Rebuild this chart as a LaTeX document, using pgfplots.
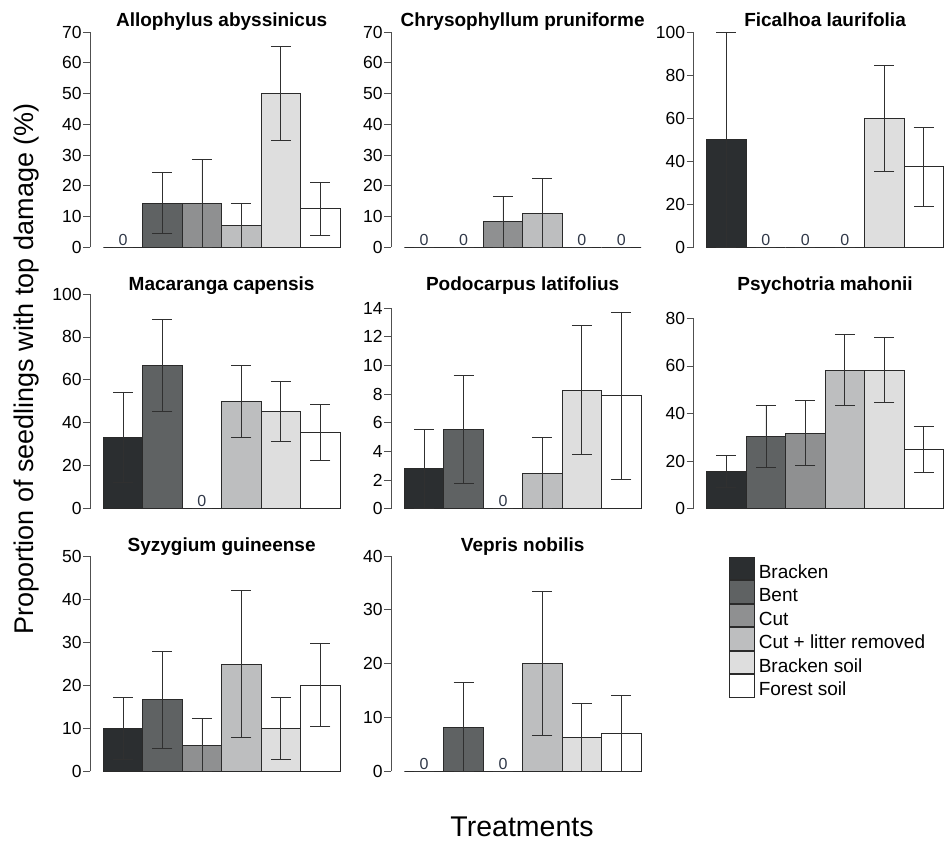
\documentclass[border=0pt]{standalone}
\usepackage{fontspec}
\setmainfont{Liberation Sans}
\usepackage{pgfplots}
\pgfplotsset{compat=1.18}
\usepackage{pgfplotstable}

\definecolor{c0}{HTML}{2B2E30}
\definecolor{c1}{HTML}{5F6263}
\definecolor{c2}{HTML}{8F9091}
\definecolor{c3}{HTML}{BDBEBF}
\definecolor{c4}{HTML}{DEDEDE}
\definecolor{c5}{HTML}{FFFFFF}
\definecolor{bord}{HTML}{2A2A2A}
\definecolor{axcol}{HTML}{505050}
\definecolor{ebcol}{HTML}{303030}
\definecolor{zcol}{HTML}{303848}

\newcommand\ticksize{\fontsize{17.5}{19}\selectfont}
\newcommand\titlesize{\fontsize{19}{21}\selectfont\bfseries}
\newcommand\legsize{\fontsize{19}{21}\selectfont}
\newcommand\labsize{\fontsize{28.5}{31}\selectfont}
\newcommand\ylabsize{\fontsize{27}{30}\selectfont}
\newcommand\zerosize{\fontsize{16}{18}\selectfont}

% x = treatment index, y = percent, ep/em = upper/lower error
\pgfplotstableread{
x y ep em
0 0 0 0
1 14.3 9.9 9.9
2 14.3 14.3 14.3
3 7.1 7.2 7.1
4 50 15.2 15.2
5 12.5 8.7 8.7
}\tAllo
\pgfplotstableread{
x y ep em
0 0 0 0
1 0 0 0
2 8.3 8.4 8.3
3 11.1 11.2 11.1
4 0 0 0
5 0 0 0
}\tChry
\pgfplotstableread{
x y ep em
0 50 50 50
1 0 0 0
2 0 0 0
3 0 0 0
4 60 24.6 24.6
5 37.5 18.3 18.3
}\tFica
\pgfplotstableread{
x y ep em
0 33.3 21.1 21.1
1 66.7 21.4 21.4
2 0 0 0
3 50 16.7 16.7
4 45.3 14.1 14.1
5 35.4 13.0 13.0
}\tMaca
\pgfplotstableread{
x y ep em
0 2.82 2.72 2.82
1 5.54 3.78 3.78
2 0 0 0
3 2.49 2.49 2.49
4 8.27 4.5 4.5
5 7.87 5.8 5.8
}\tPodo
\pgfplotstableread{
x y ep em
0 15.7 6.8 6.8
1 30.5 13.1 13.1
2 31.7 13.6 13.6
3 58.3 15.0 15.0
4 58.3 13.6 13.6
5 24.9 9.6 9.6
}\tPsyc
\pgfplotstableread{
x y ep em
0 10 7.2 7.2
1 16.6 11.2 11.2
2 6.1 6.3 6.1
3 24.9 17.1 17.1
4 10 7.2 7.2
5 20 9.6 9.6
}\tSyzy
\pgfplotstableread{
x y ep em
0 0 0 0
1 8.2 8.3 8.2
2 0 0 0
3 20 13.4 13.4
4 6.3 6.3 6.3
5 7.0 7.1 7.0
}\tVepr

\pgfplotsset{
  panel/.style={
    scale only axis, width=249.72pt,
    xmin=-0.83, xmax=5.5, ymin=0,
    anchor=south west, clip=false,
    axis x line=none, axis y line*=left,
    y axis line style={draw=axcol, line width=0.8pt},
    tick align=outside, major tick length=7pt,
    ytick style={draw=axcol, line width=0.8pt},
    minor tick num=0,
    xtick=\empty,
    yticklabel style={font=\ticksize, inner sep=1.5pt, text=black},
    /pgf/number format/assume math mode=true,
  },
}

\newcommand{\panel}[6]{%
\begin{axis}[panel, at={(#1pt,#2pt)}, height=#3pt, ymax=#4, ytick distance=#5]
\pgfplotsinvokeforeach{0,...,5}{%
  \addplot[ybar, bar width=1, fill=c##1, draw=bord, line width=0.8pt,
    restrict x to domain=##1:##1,
    error bars/.cd, y dir=both, y explicit,
    error bar style={draw=ebcol, line width=0.8pt},
    error mark options={draw=ebcol, line width=0.8pt, rotate=90, mark size=10pt}]
    table[x=x, y=y, y error plus=ep, y error minus=em] {#6};
}
\addplot[draw=none, mark=none, restrict y to domain=0:0,
  nodes near coords={0},
  every node near coord/.append style={anchor=base, yshift=2pt, font=\zerosize, text=zcol, inner sep=0pt}]
  table[x=x, y=y] {#6};
\end{axis}}

\begin{document}
\begin{tikzpicture}
\useasboundingbox (0pt,0pt) rectangle (944pt,-843pt);
% row 1
\panel{90.3}{-247.3}{215.3}{70}{10}{\tAllo}
\panel{391.3}{-247.3}{215.3}{70}{10}{\tChry}
\panel{693.7}{-247.3}{215.3}{100}{20}{\tFica}
% row 2
\panel{90.3}{-508.7}{214.7}{100}{20}{\tMaca}
\panel{391.3}{-508.7}{200.7}{14}{2}{\tPodo}
\panel{693.7}{-508.7}{190.4}{80}{20}{\tPsyc}
% row 3
\panel{90.3}{-771.3}{215.3}{50}{10}{\tSyzy}
\panel{391.3}{-771.3}{215.3}{40}{10}{\tVepr}
% legend
\begin{axis}[hide axis, scale only axis, width=10pt, height=10pt,
  at={(729pt,-556.7pt)}, anchor=north west,
  xmin=0, xmax=1, ymin=0, ymax=1,
  legend cell align=left,
  legend style={at={(0,1)}, anchor=north west, draw=none, fill=none,
    inner sep=0pt, outer sep=0pt, row sep=0pt, column sep=4pt,
    font=\legsize, cells={anchor=west},
    nodes={inner sep=0pt, text height=21.1pt, text depth=1.6pt}},
  legend image code/.code={\draw[#1] (0pt,-11.35pt) rectangle (25pt,11.35pt);}]
\addlegendimage{fill=c0, draw=bord, line width=0.8pt}
\addlegendentry{Bracken}
\addlegendimage{fill=c1, draw=bord, line width=0.8pt}
\addlegendentry{Bent}
\addlegendimage{fill=c2, draw=bord, line width=0.8pt}
\addlegendentry{Cut}
\addlegendimage{fill=c3, draw=bord, line width=0.8pt}
\addlegendentry{Cut + litter removed}
\addlegendimage{fill=c4, draw=bord, line width=0.8pt}
\addlegendentry{Bracken soil}
\addlegendimage{fill=c5, draw=bord, line width=0.8pt}
\addlegendentry{Forest soil}
\end{axis}
% titles
\node[anchor=base, font=\titlesize, inner sep=0pt] at (221.65pt,-26.7pt) {Allophylus abyssinicus};
\node[anchor=base, font=\titlesize, inner sep=0pt] at (522.65pt,-26.7pt) {Chrysophyllum pruniforme};
\node[anchor=base, font=\titlesize, inner sep=0pt] at (825.05pt,-26.7pt) {Ficalhoa laurifolia};
\node[anchor=base, font=\titlesize, inner sep=0pt] at (221.65pt,-290pt) {Macaranga capensis};
\node[anchor=base, font=\titlesize, inner sep=0pt] at (522.65pt,-290pt) {Podocarpus latifolius};
\node[anchor=base, font=\titlesize, inner sep=0pt] at (825.05pt,-290pt) {Psychotria mahonii};
\node[anchor=base, font=\titlesize, inner sep=0pt] at (221.65pt,-551pt) {Syzygium guineense};
\node[anchor=base, font=\titlesize, inner sep=0pt] at (522.65pt,-551pt) {Vepris nobilis};
% axis labels
\node[rotate=90, anchor=base, font=\ylabsize, inner sep=0pt] at (33.5pt,-369pt) {Proportion of seedlings with top damage (\%)};
\node[anchor=base, font=\labsize, inner sep=0pt] at (522pt,-836.5pt) {Treatments};
\end{tikzpicture}
\end{document}
